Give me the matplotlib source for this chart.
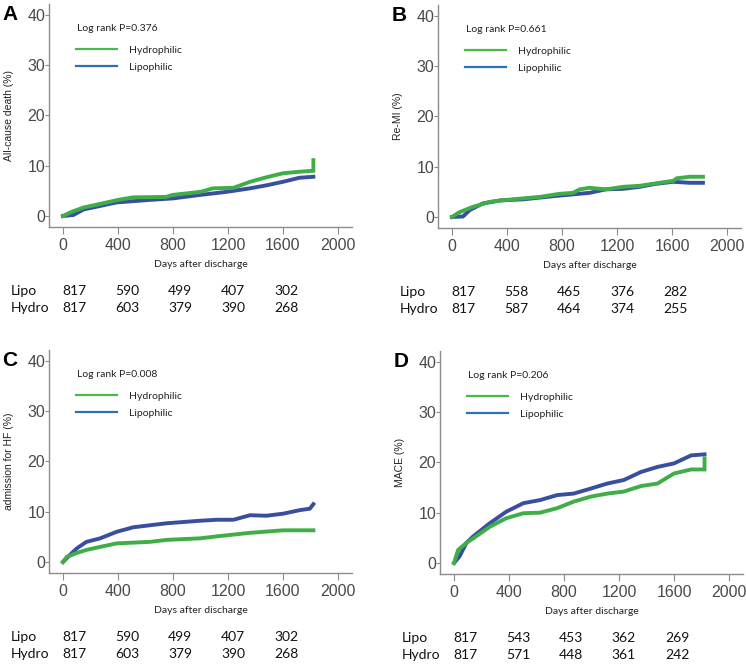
import matplotlib
matplotlib.use("Agg")
import matplotlib.pyplot as plt
from matplotlib.lines import Line2D

W, H = 746, 666
DPI = 100

# ---------------- data ----------------
risk_times = [0, 400, 800, 1200, 1600]

# Panel A: all-cause death
a_hydro_t = [0, 60, 150, 270, 400, 510, 750, 800, 1000, 1090, 1240, 1360, 1480, 1600, 1720, 1821, 1821]
a_hydro_v = [0, 0.8, 1.7, 2.4, 3.2, 3.7, 3.8, 4.2, 4.8, 5.5, 5.6, 6.8, 7.7, 8.5, 8.8, 9.0, 11.1]
a_lipo_t = [0, 75, 150, 270, 390, 630, 800, 1000, 1190, 1360, 1480, 1600, 1720, 1821]
a_lipo_v = [0, 0.2, 1.3, 2.0, 2.7, 3.2, 3.5, 4.2, 4.8, 5.5, 6.1, 6.8, 7.6, 7.8]

# Panel B: Re-MI
b_hydro_t = [0, 50, 150, 275, 395, 640, 780, 880, 930, 1000, 1120, 1245, 1365, 1510, 1610, 1635, 1730, 1825]
b_hydro_v = [0, 0.9, 2.0, 3.0, 3.4, 4.0, 4.6, 4.8, 5.5, 5.8, 5.5, 6.0, 6.2, 6.8, 7.2, 7.7, 8.0, 8.0]
b_lipo_t = [0, 80, 130, 225, 350, 515, 760, 1000, 1120, 1245, 1365, 1485, 1610, 1730, 1825]
b_lipo_v = [0, 0.1, 1.4, 2.7, 3.3, 3.5, 4.2, 4.8, 5.5, 5.6, 6.0, 6.6, 7.0, 6.8, 6.8]

# Panel C: admission for HF
c_hydro_t = [0, 27, 100, 170, 270, 390, 630, 755, 995, 1120, 1360, 1600, 1821]
c_hydro_v = [0, 1.0, 1.8, 2.4, 3.0, 3.7, 4.0, 4.4, 4.7, 5.1, 5.8, 6.3, 6.3]
c_lipo_t = [0, 50, 100, 170, 270, 390, 510, 630, 755, 995, 1120, 1240, 1360, 1480, 1600, 1720, 1795, 1821]
c_lipo_v = [0, 1.4, 2.7, 4.0, 4.7, 6.0, 6.9, 7.3, 7.7, 8.2, 8.4, 8.4, 9.3, 9.2, 9.6, 10.3, 10.6, 11.5]

# Panel D: MACE
d_hydro_t = [0, 30, 90, 140, 260, 380, 505, 625, 750, 870, 995, 1115, 1235, 1360, 1480, 1600, 1725, 1822, 1822]
d_hydro_v = [0, 2.6, 4.0, 4.9, 7.2, 8.9, 9.9, 10.0, 10.9, 12.2, 13.2, 13.8, 14.2, 15.3, 15.8, 17.8, 18.6, 18.6, 20.8]
d_lipo_t = [0, 40, 90, 140, 260, 380, 505, 625, 750, 870, 995, 1115, 1235, 1360, 1480, 1600, 1725, 1822]
d_lipo_v = [0, 1.3, 4.0, 5.3, 7.9, 10.2, 11.9, 12.5, 13.5, 13.8, 14.8, 15.8, 16.5, 18.1, 19.1, 19.8, 21.4, 21.6]

panels = [
    dict(letter="A", ylabel="All-cause death (%)", p="Log rank P=0.376",
         hydro=(a_hydro_t, a_hydro_v), lipo=(a_lipo_t, a_lipo_v),
         risk_lipo=[817, 590, 499, 407, 302], risk_hydro=[817, 603, 379, 390, 268],
         x0=63, y0=216),
    dict(letter="B", ylabel="Re-MI (%)", p="Log rank P=0.661",
         hydro=(b_hydro_t, b_hydro_v), lipo=(b_lipo_t, b_lipo_v),
         risk_lipo=[817, 558, 465, 376, 282], risk_hydro=[817, 587, 464, 374, 255],
         x0=452, y0=217),
    dict(letter="C", ylabel="admission for HF (%)", p="Log rank P=0.008",
         hydro=(c_hydro_t, c_hydro_v), lipo=(c_lipo_t, c_lipo_v),
         risk_lipo=[817, 590, 499, 407, 302], risk_hydro=[817, 603, 379, 390, 268],
         x0=63, y0=562),
    dict(letter="D", ylabel="MACE (%)", p="Log rank P=0.206",
         hydro=(d_hydro_t, d_hydro_v), lipo=(d_lipo_t, d_lipo_v),
         risk_lipo=[817, 543, 453, 362, 269], risk_hydro=[817, 571, 448, 361, 242],
         x0=454, y0=563),
]

# ---------------- style ----------------
GREEN = "#3fae48"
BLUE = "#3a4ea0"
LEG_GREEN = "#4cb848"
LEG_BLUE = "#2e6fb5"
SPINE = "#8c8c8c"
TICKTXT = "#4a4a4a"
SANS = ["Liberation Sans", "DejaVu Sans"]
CAL = ["Lato", "DejaVu Sans"]

XPX = 0.1375   # px per day
YPX = 5.03     # px per %
XMIN, XMAX = -100, 2100
YMIN, YMAX = -2.2, 42.2

fig = plt.figure(figsize=(W / DPI, H / DPI), dpi=DPI)

for pnl in panels:
    x0, y0 = pnl["x0"], pnl["y0"]
    left = x0 + XMIN * XPX
    top = y0 - YMAX * YPX
    width = (XMAX - XMIN) * XPX
    height = (YMAX - YMIN) * YPX
    ax = fig.add_axes([left / W, 1 - (top + height) / H, width / W, height / H])
    ax.set_xlim(XMIN, XMAX)
    ax.set_ylim(YMIN, YMAX)
    ax.patch.set_alpha(0)

    for s in ("top", "right"):
        ax.spines[s].set_visible(False)
    for s in ("left", "bottom"):
        ax.spines[s].set_color(SPINE)
        ax.spines[s].set_linewidth(1.0)

    ax.set_xticks([0, 400, 800, 1200, 1600, 2000])
    ax.set_yticks([0, 10, 20, 30, 40])
    ax.tick_params(axis="x", direction="out", length=5, width=0.8, color=SPINE,
                   labelsize=11.5, labelcolor=TICKTXT, pad=3)
    ax.tick_params(axis="y", direction="out", length=3, width=0.8, color=SPINE,
                   labelsize=11.5, labelcolor=TICKTXT, pad=0)
    for lab in ax.get_xticklabels() + ax.get_yticklabels():
        lab.set_family(SANS)

    ht, hv = pnl["hydro"]
    lt, lv = pnl["lipo"]
    ax.plot(lt, lv, color=BLUE, lw=2.8, zorder=3, solid_joinstyle="miter")
    ax.plot(ht, hv, color=GREEN, lw=2.8, zorder=4, solid_joinstyle="miter")

    ax.set_xlabel("Days after discharge", family=CAL, fontsize=7.5, color="#222222",
                  labelpad=5)
    ax.set_ylabel(pnl["ylabel"], family=SANS, fontsize=7.5, color="#222222")
    ax.yaxis.set_label_coords(-35 / width, 0.5)

    ax.text(102, 37.3, pnl["p"], family=CAL, fontsize=7.5, color="#222222",
            va="center", ha="left")
    handles = [Line2D([], [], color=LEG_GREEN, lw=1.6),
               Line2D([], [], color=LEG_BLUE, lw=1.6)]
    ax.legend(handles, ["Hydrophilic", "Lipophilic"], loc="upper left",
              bbox_to_anchor=((102 - XMIN) / (XMAX - XMIN) - 0.005, (33.9 - YMIN) / (YMAX - YMIN)),
              frameon=False, prop=dict(family=CAL, size=7.5), handlelength=4.0,
              handletextpad=1.1, labelspacing=0.75, borderpad=0, borderaxespad=0,
              labelcolor="#222222")

    # Risk table
    for row, (name, vals) in enumerate([("Lipo", pnl["risk_lipo"]),
                                         ("Hydro", pnl["risk_hydro"])]):
        dy = -64 - 17 * row
        ax.annotate(name, xy=(0, 0), xycoords=("data", "axes fraction"),
                    xytext=(-52, dy), textcoords="offset pixels",
                    ha="left", va="center", family=CAL, fontsize=10, color="#111111",
                    annotation_clip=False)
        for i, (t, v) in enumerate(zip(risk_times, vals)):
            ax.annotate(str(v), xy=(0, 0), xycoords=("data", "axes fraction"),
                        xytext=(11 + 53 * i, dy), textcoords="offset pixels",
                        ha="center", va="center", family=CAL, fontsize=10,
                        color="#111111", annotation_clip=False)

    # panel letter
    fig.text((left - 47) / W, 1 - (top + 11) / H, pnl["letter"], family=SANS,
             fontsize=15, fontweight="bold", color="black", ha="left", va="center")

fig.savefig("out.png", dpi=DPI)
